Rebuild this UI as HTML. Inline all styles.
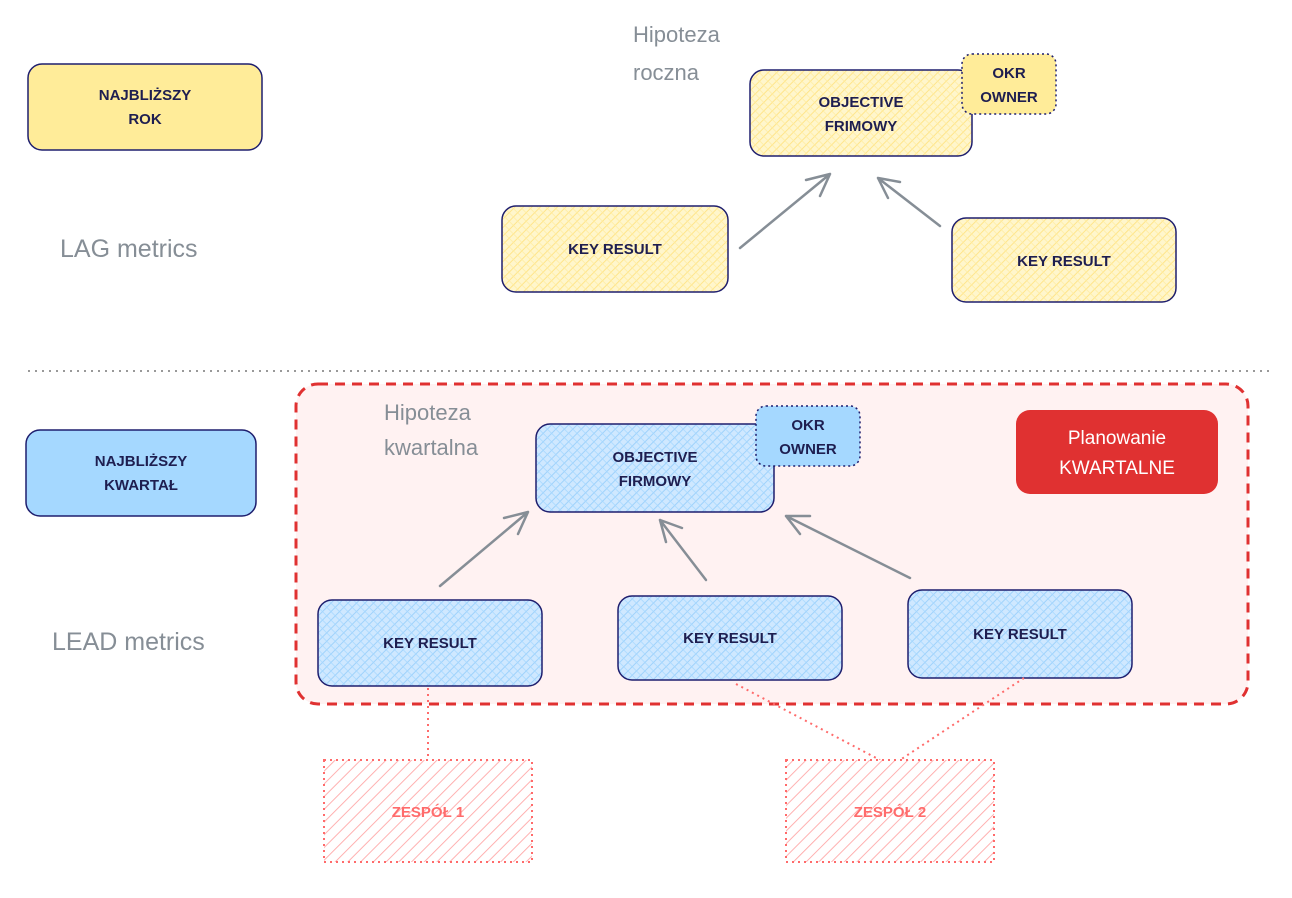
<!DOCTYPE html>
<html><head><meta charset="utf-8"><style>
html,body{margin:0;padding:0;background:#fff;}
svg{display:block;}
text{font-family:"Liberation Sans","DejaVu Sans",sans-serif;}
</style></head><body>
<svg width="1292" height="898" viewBox="0 0 1292 898" xmlns="http://www.w3.org/2000/svg">
<defs>
<pattern id="hb" width="6" height="6" patternUnits="userSpaceOnUse" patternTransform="rotate(45)">
<rect width="6" height="6" fill="#cfe8ff"/><line x1="0" y1="0" x2="0" y2="6" stroke="#9fd2fb" stroke-width="2"/><line x1="0" y1="0" x2="6" y2="0" stroke="#a5d8ff" stroke-width="1.5"/>
</pattern>
<pattern id="hy" width="6" height="6" patternUnits="userSpaceOnUse" patternTransform="rotate(45)">
<rect width="6" height="6" fill="#fff6cc"/><line x1="0" y1="0" x2="0" y2="6" stroke="#ffe58a" stroke-width="2"/><line x1="0" y1="0" x2="6" y2="0" stroke="#ffeca0" stroke-width="1.5"/>
</pattern>
<pattern id="hr" width="9" height="9" patternUnits="userSpaceOnUse" patternTransform="rotate(45)">
<rect width="9" height="9" fill="#fff"/><line x1="0" y1="0" x2="0" y2="9" stroke="#ffa8a8" stroke-width="1.8"/>
</pattern>
</defs>
<!-- top section -->
<rect x="28" y="64" width="234" height="86" rx="14" fill="#ffec99" stroke="#1e1e6e" stroke-width="1.5"/>
<text x="145" y="100" font-size="15" font-weight="bold" fill="#1e1e50" text-anchor="middle">NAJBLIŻSZY</text>
<text x="145" y="124" font-size="15" font-weight="bold" fill="#1e1e50" text-anchor="middle">ROK</text>
<text x="60" y="257" font-size="25" fill="#868e96">LAG metrics</text>
<text x="633" y="42" font-size="22" fill="#868e96">Hipoteza</text>
<text x="633" y="80" font-size="22" fill="#868e96">roczna</text>

<rect x="750" y="70" width="222" height="86" rx="14" fill="url(#hy)" stroke="#1e1e6e" stroke-width="1.5"/>
<text x="861" y="107" font-size="15" font-weight="bold" fill="#1e1e50" text-anchor="middle">OBJECTIVE</text>
<text x="861" y="131" font-size="15" font-weight="bold" fill="#1e1e50" text-anchor="middle">FRIMOWY</text>
<rect x="962" y="54" width="94" height="60" rx="10" fill="#ffec99" stroke="#1e1e6e" stroke-width="1.5" stroke-dasharray="2 3"/>
<text x="1009" y="78" font-size="15" font-weight="bold" fill="#1e1e50" text-anchor="middle">OKR</text>
<text x="1009" y="102" font-size="15" font-weight="bold" fill="#1e1e50" text-anchor="middle">OWNER</text>

<rect x="502" y="206" width="226" height="86" rx="14" fill="url(#hy)" stroke="#1e1e6e" stroke-width="1.5"/>
<text x="615" y="254" font-size="15" font-weight="bold" fill="#1e1e50" text-anchor="middle">KEY RESULT</text>
<rect x="952" y="218" width="224" height="84" rx="14" fill="url(#hy)" stroke="#1e1e6e" stroke-width="1.5"/>
<text x="1064" y="266" font-size="15" font-weight="bold" fill="#1e1e50" text-anchor="middle">KEY RESULT</text>

<g fill="none" stroke="#868e96" stroke-width="2.5" stroke-linecap="round">
<path d="M740 248 L830 174 M830 174 L806 180 M830 174 L820 196"/>
<path d="M940 226 L878 178 M878 178 L888 198 M878 178 L900 182"/>
</g>

<line x1="28" y1="371" x2="1270" y2="371" stroke="#999" stroke-width="2" stroke-dasharray="2 5"/>

<!-- bottom -->
<rect x="296" y="384" width="952" height="320" rx="22" fill="#fff2f2" stroke="#e03131" stroke-width="3" stroke-dasharray="10 7"/>
<rect x="26" y="430" width="230" height="86" rx="14" fill="#a5d8ff" stroke="#1e1e6e" stroke-width="1.5"/>
<text x="141" y="466" font-size="15" font-weight="bold" fill="#1e1e50" text-anchor="middle">NAJBLIŻSZY</text>
<text x="141" y="490" font-size="15" font-weight="bold" fill="#1e1e50" text-anchor="middle">KWARTAŁ</text>
<text x="52" y="650" font-size="25" fill="#868e96">LEAD metrics</text>
<text x="384" y="420" font-size="22" fill="#868e96">Hipoteza</text>
<text x="384" y="455" font-size="22" fill="#868e96">kwartalna</text>

<rect x="536" y="424" width="238" height="88" rx="14" fill="url(#hb)" stroke="#1e1e6e" stroke-width="1.5"/>
<text x="655" y="462" font-size="15" font-weight="bold" fill="#1e1e50" text-anchor="middle">OBJECTIVE</text>
<text x="655" y="486" font-size="15" font-weight="bold" fill="#1e1e50" text-anchor="middle">FIRMOWY</text>
<rect x="756" y="406" width="104" height="60" rx="10" fill="#a5d8ff" stroke="#1e1e6e" stroke-width="1.5" stroke-dasharray="2 3"/>
<text x="808" y="430" font-size="15" font-weight="bold" fill="#1e1e50" text-anchor="middle">OKR</text>
<text x="808" y="454" font-size="15" font-weight="bold" fill="#1e1e50" text-anchor="middle">OWNER</text>

<rect x="1016" y="410" width="202" height="84" rx="14" fill="#e03131"/>
<text x="1117" y="444" font-size="19" fill="#fff" text-anchor="middle">Planowanie</text>
<text x="1117" y="474" font-size="19" fill="#fff" text-anchor="middle">KWARTALNE</text>

<rect x="318" y="600" width="224" height="86" rx="14" fill="url(#hb)" stroke="#1e1e6e" stroke-width="1.5"/>
<text x="430" y="648" font-size="15" font-weight="bold" fill="#1e1e50" text-anchor="middle">KEY RESULT</text>
<rect x="618" y="596" width="224" height="84" rx="14" fill="url(#hb)" stroke="#1e1e6e" stroke-width="1.5"/>
<text x="730" y="643" font-size="15" font-weight="bold" fill="#1e1e50" text-anchor="middle">KEY RESULT</text>
<rect x="908" y="590" width="224" height="88" rx="14" fill="url(#hb)" stroke="#1e1e6e" stroke-width="1.5"/>
<text x="1020" y="639" font-size="15" font-weight="bold" fill="#1e1e50" text-anchor="middle">KEY RESULT</text>

<g fill="none" stroke="#868e96" stroke-width="2.5" stroke-linecap="round">
<path d="M440 586 L528 512 M528 512 L504 518 M528 512 L518 534"/>
<path d="M706 580 L660 520 M660 520 L666 542 M660 520 L682 528"/>
<path d="M910 578 L786 516 M786 516 L800 534 M786 516 L810 516"/>
</g>

<g fill="none" stroke="#ff6b6b" stroke-width="2" stroke-dasharray="2 4">
<path d="M428 688 L428 760"/>
<path d="M736 684 L880 760"/>
<path d="M1024 678 L900 760"/>
</g>
<rect x="324" y="760" width="208" height="102" fill="url(#hr)" stroke="#ff6b6b" stroke-width="2" stroke-dasharray="2 4"/>
<text x="428" y="817" font-size="15" font-weight="bold" fill="#ff6b6b" text-anchor="middle">ZESPÓŁ 1</text>
<rect x="786" y="760" width="208" height="102" fill="url(#hr)" stroke="#ff6b6b" stroke-width="2" stroke-dasharray="2 4"/>
<text x="890" y="817" font-size="15" font-weight="bold" fill="#ff6b6b" text-anchor="middle">ZESPÓŁ 2</text>
</svg>
</body></html>
